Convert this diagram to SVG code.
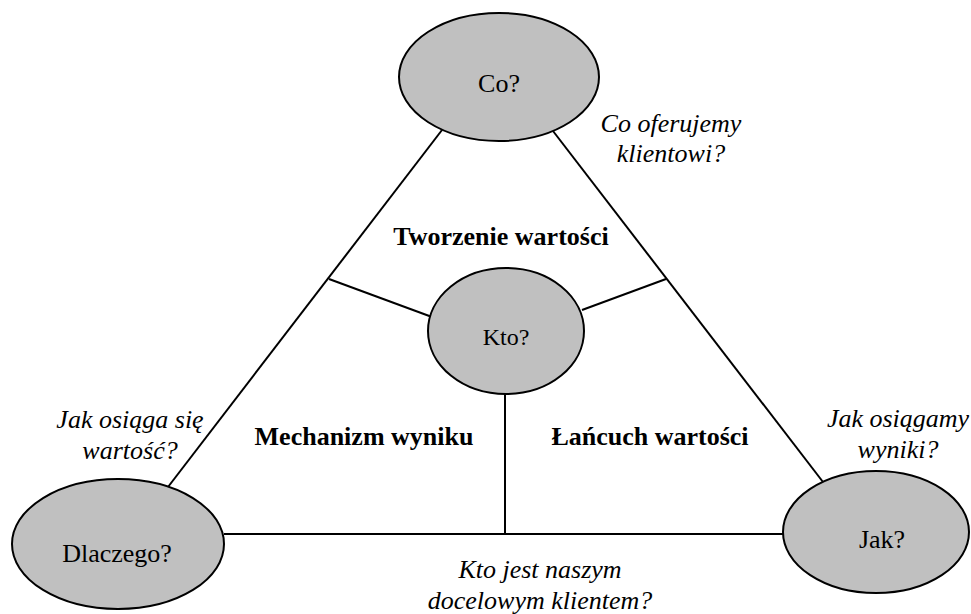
<svg xmlns="http://www.w3.org/2000/svg" width="971" height="614" viewBox="0 0 971 614">
<style>
.bg{fill:#ffffff}
.node ellipse{fill:#c0c0c0;stroke:#000000;stroke-width:2}
.conn line{stroke:#000000;stroke-width:2;fill:none}
.t{font-family:"Liberation Serif","Times New Roman",serif;fill:#000000;text-anchor:middle}
.n{font-size:26px}
.k{font-size:24px}
.b{font-size:26px;font-weight:bold}
.i{font-size:26px;font-style:italic}
</style>
<rect class="bg" x="0" y="0" width="971" height="614"/>
<g id="connectors" class="conn">
<line x1="168" y1="487" x2="442" y2="130"/>
<line x1="823" y1="482" x2="553" y2="131"/>
<line x1="224" y1="534" x2="783" y2="534"/>
<line x1="329" y1="279" x2="432" y2="317"/>
<line x1="666" y1="279" x2="582" y2="310"/>
<line x1="505" y1="394" x2="505" y2="534"/>
</g>
<g id="node-co" class="node">
<ellipse cx="499" cy="77" rx="100" ry="64"/>
<text class="t n" x="499" y="92">Co?</text>
</g>
<g id="node-kto" class="node">
<ellipse cx="506" cy="331" rx="78" ry="63"/>
<text class="t k" x="506" y="345">Kto?</text>
</g>
<g id="node-dlaczego" class="node">
<ellipse cx="118" cy="544" rx="106" ry="65"/>
<text class="t n" x="117" y="562">Dlaczego?</text>
</g>
<g id="node-jak" class="node">
<ellipse cx="876" cy="532" rx="93" ry="61"/>
<text class="t n" x="882" y="548">Jak?</text>
</g>
<g id="labels">
<text class="t b" x="501" y="245">Tworzenie wartości</text>
<text class="t b" x="364" y="445">Mechanizm wyniku</text>
<text class="t b" x="650" y="445">Łańcuch wartości</text>
<text class="t i" x="671" y="132">Co oferujemy</text>
<text class="t i" x="671" y="162">klientowi?</text>
<text class="t i" x="130" y="428">Jak osiąga się</text>
<text class="t i" x="130" y="459">wartość?</text>
<text class="t i" x="898" y="427">Jak osiągamy</text>
<text class="t i" x="898" y="458">wyniki?</text>
<text class="t i" x="540" y="578">Kto jest naszym</text>
<text class="t i" x="540" y="609">docelowym klientem?</text>
</g>
</svg>
